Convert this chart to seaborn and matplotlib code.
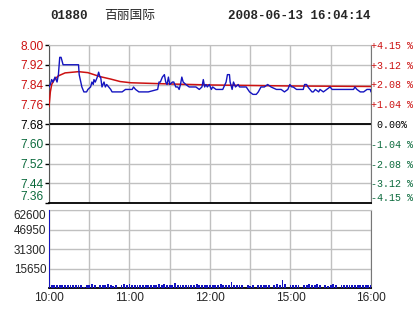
import matplotlib
matplotlib.use("Agg")
import matplotlib.pyplot as plt
import seaborn as sns
import pandas as pd
import numpy as np

sns.set_style("white")
plt.rcParams['font.family'] = ['Liberation Sans', 'DejaVu Sans']

# ---------------- data ----------------
code = "01880"
name = "百丽国际"
stamp = "2008-06-13 16:04:14"
prev_close = 7.68

# minutes since 10:00 along the trading axis (lunch break removed)
price_min = [0, 1, 2, 3, 4.5, 6, 7, 8, 9, 10, 10.5, 12, 14, 18, 21, 22, 22.5, 24.5, 26, 28,
             29, 31, 32, 33, 33.5, 34.5, 36, 37, 38, 38.5, 39.5, 41, 42, 43, 44.5, 46, 47,
             49.5, 52, 54.5, 57, 59.5, 62, 63, 64.5, 67, 70.5, 72.5, 74, 81, 82, 83, 84.5,
             86, 87, 88, 89, 90, 92, 93, 94.5, 96, 97, 98, 99, 100, 102, 104.5, 107, 109.5,
             112, 114, 115, 116, 117, 118, 119.5, 121, 122, 124.5, 127, 129.5, 132, 133,
             134.5, 135, 136.5, 137.5, 139, 141, 142, 144.5, 147, 149.5, 152, 154.5, 156,
             158, 160.5, 163, 165.5, 169.5, 173, 175.5, 178, 179.5, 181, 182, 184.5, 187,
             189.5, 190.5, 192, 193, 194.5, 196, 197, 198.5, 201, 202, 204.5, 207, 209.5,
             211, 212, 217, 222, 227, 228, 229.5, 232, 234.5, 237, 239.5, 240]
price_val = [7.83, 7.84, 7.86, 7.85, 7.87, 7.85, 7.88, 7.95, 7.95, 7.93, 7.92, 7.92, 7.92, 7.92,
             7.92, 7.92, 7.88, 7.83, 7.81, 7.81, 7.82, 7.83, 7.85, 7.84, 7.86, 7.85, 7.87, 7.89,
             7.87, 7.87, 7.83, 7.85, 7.83, 7.84, 7.83, 7.82, 7.81, 7.81, 7.81, 7.81, 7.82, 7.82,
             7.82, 7.83, 7.82, 7.81, 7.81, 7.81, 7.81, 7.82, 7.85, 7.85, 7.87, 7.88, 7.85, 7.84,
             7.87, 7.84, 7.85, 7.85, 7.83, 7.83, 7.82, 7.84, 7.87, 7.85, 7.84, 7.83, 7.83, 7.83,
             7.82, 7.83, 7.86, 7.83, 7.84, 7.83, 7.84, 7.82, 7.83, 7.82, 7.82, 7.82, 7.85, 7.88,
             7.88, 7.85, 7.82, 7.85, 7.83, 7.84, 7.83, 7.83, 7.83, 7.81, 7.80, 7.80, 7.81, 7.83,
             7.83, 7.84, 7.83, 7.82, 7.82, 7.81, 7.82, 7.84, 7.83, 7.83, 7.82, 7.82, 7.82, 7.84,
             7.84, 7.83, 7.82, 7.81, 7.81, 7.82, 7.81, 7.82, 7.81, 7.82, 7.83, 7.82, 7.82, 7.82,
             7.82, 7.82, 7.83, 7.82, 7.81, 7.81, 7.82, 7.82, 7.81]

avg_min = [0, 1, 2, 4, 7, 12, 22, 29, 38, 46, 53, 61, 91, 121, 151, 181, 240]
avg_val = [7.75, 7.81, 7.84, 7.86, 7.875, 7.887, 7.892, 7.888, 7.872, 7.862, 7.852, 7.847,
           7.842, 7.838, 7.836, 7.834, 7.832]

# volume per 2-minute slot, 10:00 .. 16:00
vol_val = [62600,
           2600, 2200, 2400, 2200, 2300, 2500, 2200, 2400, 2300, 2100,
           2500, 2300, 1200, 2600, 2200, 3000, 2400, 0, 2800, 2300,
           2500, 3200, 2200, 1800, 2400, 0, 2600, 2900, 2300, 3400,
           2500, 2200, 2600, 2300, 2700, 2400, 2200, 2600, 2500, 2300,
           2900, 2400, 3100, 2600, 2400, 2700, 3800, 2500, 2600, 2400,
           2300, 2800, 2500, 2600, 3600, 2400, 2700, 2500, 2200, 2600,
           2400, 2600, 2300, 3200, 2500, 2400, 2600, 5000, 2300, 2500,
           2800, 2400, 0, 2600, 1500, 2500, 0, 2400, 2700, 2300,
           2600, 2500, 0, 2400, 3000, 2200, 6500, 3500, 0, 2400,
           2600, 2300, 2500, 0, 2700, 2400, 3000, 2300, 2600, 3200,
           2200, 0, 2500, 1400, 2600, 3000, 2400, 0, 2300, 2600,
           2500, 2400, 2600, 2300, 2700, 2500, 2400, 2600, 2500, 2700]
vol_min = list(range(0, 241, 2))

price_ticks = [7.36, 7.44, 7.52, 7.60, 7.68, 7.76, 7.84, 7.92, 8.00]
pct_labels = ["-4.15 %", "-3.12 %", "-2.08 %", "-1.04 %", " 0.00%",
              "+1.04 %", "+2.08 %", "+3.12 %", "+4.15 %"]
vol_ticks = [15650, 31300, 46950, 62600]
time_ticks = [0, 60, 120, 180, 240]
time_labels = ["10:00", "11:00", "12:00", "15:00", "16:00"]

RED = "#cc1111"
GREEN = "#0b6a3c"
BLUE = "#1414c0"
GRID = "#c0c0c0"

df_p = pd.DataFrame({"m": price_min, "p": price_val})
df_a = pd.DataFrame({"m": avg_min, "p": avg_val})
df_v = pd.DataFrame({"m": vol_min, "v": vol_val})

fig = plt.figure(figsize=(4.14, 3.14), dpi=100)
W, H = 414, 314
def rect(x0, y0, x1, y1):
    return [x0 / W, 1 - y1 / H, (x1 - x0) / W, (y1 - y0) / H]

ax = fig.add_axes(rect(49, 45, 371, 203))
axv = fig.add_axes(rect(49, 210, 371, 288))

def tick_color(p):
    if p > prev_close + 1e-9:
        return RED
    if p < prev_close - 1e-9:
        return GREEN
    return "black"

# ---- price panel ----
for t in range(0, 241, 30):
    ax.axvline(t, color=GRID, lw=1, zorder=0)
for p in price_ticks:
    ax.axhline(p, color=GRID, lw=1, zorder=0)
ax.axhline(prev_close, color="black", lw=1.3, zorder=1)
sns.lineplot(data=df_a, x="m", y="p", ax=ax, color=RED, lw=1.1, zorder=3)
sns.lineplot(data=df_p, x="m", y="p", ax=ax, color=BLUE, lw=1.0, zorder=4)
ax.set_xlim(0, 240)
ax.set_ylim(7.36, 8.00)
ax.set_yticks(price_ticks)
ax.set_yticklabels([f"{p:.2f}" for p in price_ticks])
ax.set_xticks([])
ax.set_xlabel("")
ax.set_ylabel("")
ax.tick_params(axis="y", length=3, width=1, pad=1, labelsize=8.6, color="black")
for lab, p in zip(ax.get_yticklabels(), price_ticks):
    lab.set_color(tick_color(p))
    if p == price_ticks[0]:
        lab.set_va("bottom")
ax.spines["top"].set_color(GRID)
ax.spines["left"].set_color("#555555")
ax.spines["right"].set_color("#777777")
ax.spines["bottom"].set_color("black")
ax.spines["bottom"].set_linewidth(1.3)

axr = ax.twinx()
axr.set_ylim(7.36, 8.00)
axr.set_yticks(price_ticks)
axr.set_yticklabels(pct_labels, family="Liberation Mono")
axr.tick_params(axis="y", length=0, pad=0, labelsize=7.2)
for lab, p in zip(axr.get_yticklabels(), price_ticks):
    lab.set_color(tick_color(p))
    if p == price_ticks[0]:
        lab.set_va("bottom")
for s in axr.spines.values():
    s.set_visible(False)

# ---- volume panel ----
for t in range(0, 241, 30):
    axv.axvline(t, color=GRID, lw=1, zorder=0)
for v in vol_ticks:
    axv.axhline(v, color=GRID, lw=1, zorder=0)
sns.barplot(data=df_v, x="m", y="v", ax=axv, native_scale=True, color=BLUE,
            width=0.7, linewidth=0, saturation=1, zorder=3)
axv.set_xlim(0, 240)
axv.set_ylim(0, 62600)
axv.set_yticks(vol_ticks)
axv.set_yticklabels([str(v) for v in vol_ticks])
axv.set_xticks(time_ticks)
axv.set_xticklabels(time_labels)
axv.set_xlabel("")
axv.set_ylabel("")
axv.tick_params(axis="y", length=0, pad=2, labelsize=8.4)
axv.tick_params(axis="x", length=0, pad=3, labelsize=8.6)
for lab, v in zip(axv.get_yticklabels(), vol_ticks):
    if v == vol_ticks[-1]:
        lab.set_va("top")
axv.spines["top"].set_color(GRID)
axv.spines["right"].set_color("#777777")
axv.spines["left"].set_color("#555555")
axv.spines["bottom"].set_color("black")
axv.spines["bottom"].set_linewidth(1.3)

# ---- header ----
fig.text(50 / W, 1 - 16 / H, code, family="Liberation Mono", weight="bold",
         fontsize=9, va="center", ha="left")
fig.text(104 / W, 1 - 16 / H, name, family=["Noto Sans CJK SC", "DejaVu Sans"],
         fontsize=9.2, va="center", ha="left")
fig.text(371 / W, 1 - 16 / H, stamp, family="Liberation Mono", weight="bold",
         fontsize=9, va="center", ha="right")

fig.savefig("out.png", dpi=100)
